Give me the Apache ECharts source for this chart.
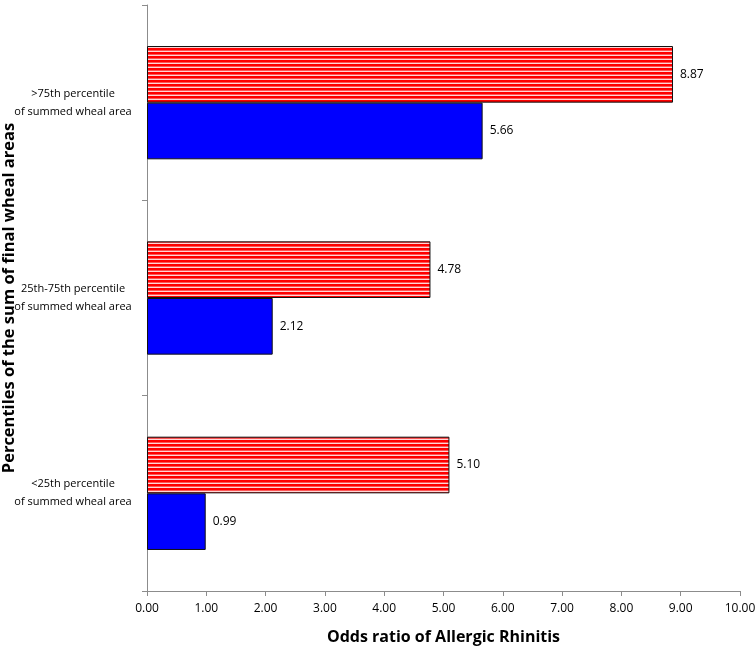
<!DOCTYPE html>
<html><head><meta charset="utf-8">
<script src="https://cdn.jsdelivr.net/npm/echarts@6/dist/echarts.min.js"></script>
<style>html,body{margin:0;padding:0;background:#fff}#c{width:756px;height:652px}</style>
</head><body><div id="c"></div>
<script>
const categories = ['<25th percentile\nof summed wheal area', '25th-75th percentile\nof summed wheal area', '>75th percentile\nof summed wheal area'];
const stripedValues = [5.10, 4.78, 8.87];
const blueValues = [0.99, 2.12, 5.66];

const pc = document.createElement('canvas');
pc.width = 8; pc.height = 4;
const ctx = pc.getContext('2d');
ctx.fillStyle = '#ffd6d6'; ctx.fillRect(0,0,8,4);
ctx.fillStyle = '#ff0000'; ctx.fillRect(0,0,8,2.6);

const font = '"Open Sans", "Noto Sans", sans-serif';
const chart = echarts.init(document.getElementById('c'), null, {renderer:'canvas'});
chart.setOption({
  animation:false,
  grid:{left:147, right:16, top:5, bottom:61, containLabel:false, outerBoundsMode:'none'},
  xAxis:{type:'value', min:0, max:10, interval:1,
    axisLine:{show:true, lineStyle:{color:'#8c8c8c'}},
    axisTick:{show:true, length:5, lineStyle:{color:'#8c8c8c'}},
    splitLine:{show:false},
    axisLabel:{color:'#000', fontFamily:font, fontSize:12, margin:12, formatter:v=>v.toFixed(2)},
    name:'Odds ratio of Allergic Rhinitis', nameLocation:'middle', nameGap:38,
    nameTextStyle:{color:'#000', fontWeight:'bold', fontSize:16, fontFamily:font}
  },
  yAxis:{type:'category', data:categories,
    axisLine:{show:true, lineStyle:{color:'#8c8c8c'}},
    axisTick:{show:true, length:5, lineStyle:{color:'#8c8c8c'}},
    axisLabel:{color:'#000', fontFamily:font, fontSize:11, margin:74, align:'center', lineHeight:18},
    name:'Percentiles of the sum of final wheal areas', nameLocation:'middle', nameGap:129,
    nameMoveOverlap:false,
    nameTextStyle:{color:'#000', fontWeight:'bold', fontSize:16.5, fontFamily:font}
  },
  series:[
    {type:'bar', name:'striped', data:stripedValues, barGap:'0%', barCategoryGap:'42%',
      itemStyle:{color:{image:pc, repeat:'repeat'}, borderColor:'#111', borderWidth:1},
      label:{show:true, position:'right', distance:7, color:'#000', fontFamily:font, fontSize:12, formatter:p=>p.value.toFixed(2)}},
    {type:'bar', name:'blue', data:blueValues, barGap:'0%', barCategoryGap:'42%',
      itemStyle:{color:'#0000ff', borderColor:'#111', borderWidth:1},
      label:{show:true, position:'right', distance:7, color:'#000', fontFamily:font, fontSize:12, formatter:p=>p.value.toFixed(2)}}
  ]
});
</script></body></html>
